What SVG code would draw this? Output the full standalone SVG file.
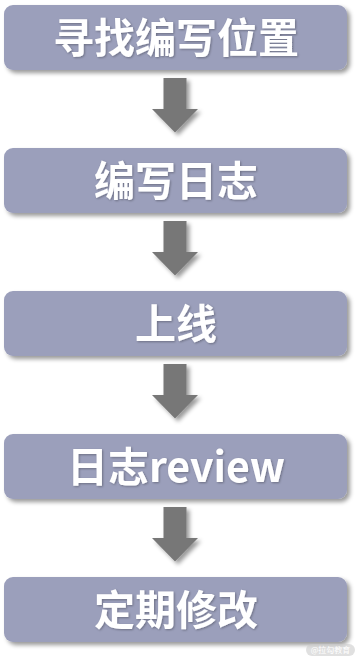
<svg xmlns="http://www.w3.org/2000/svg" width="360" height="660" viewBox="0 0 360 660">
  <defs>
    <filter id="sh" x="-10%" y="-20%" width="130%" height="150%">
      <feDropShadow dx="3" dy="3" stdDeviation="2" flood-color="#000" flood-opacity="0.4"/>
    </filter>
    <filter id="tsh" x="-10%" y="-20%" width="130%" height="150%">
      <feDropShadow dx="1" dy="1" stdDeviation="0.8" flood-color="#000" flood-opacity="0.3"/>
    </filter>
    <path id="arr" d="M163.5,0 H186.5 V31 H198 L175,54.5 L152,31 H163.5 Z"/>
  </defs>
  <style>
    .box { fill: #9b9fbb; filter: url(#sh); }
    .lbl { fill: #ffffff; font-family: "Noto Sans CJK SC", "Noto Sans", sans-serif; font-weight: bold; font-size: 41px; text-anchor: middle; filter: url(#tsh); }
    .arrow { fill: #777777; filter: url(#sh); }
    .wm { fill: #ffffff; font-family: "Noto Sans CJK SC", sans-serif; font-size: 8px; text-anchor: middle; }
  </style>
  <rect width="360" height="660" fill="#ffffff"/>
  <g id="connectors">
    <use href="#arr" class="arrow" transform="translate(0,78)"/>
    <use href="#arr" class="arrow" transform="translate(0,221)"/>
    <use href="#arr" class="arrow" transform="translate(0,364)"/>
    <use href="#arr" class="arrow" transform="translate(0,507)"/>
  </g>
  <g id="node1">
    <rect class="box" x="4" y="5" width="343" height="65" rx="9"/>
    <text class="lbl" x="176" y="52.5">寻找编写位置</text>
  </g>
  <g id="node2">
    <rect class="box" x="4" y="148" width="343" height="65" rx="9"/>
    <text class="lbl" x="176" y="195.5">编写日志</text>
  </g>
  <g id="node3">
    <rect class="box" x="4" y="291" width="343" height="65" rx="9"/>
    <text class="lbl" x="176" y="338.5">上线</text>
  </g>
  <g id="node4">
    <rect class="box" x="4" y="434" width="343" height="65" rx="9"/>
    <text class="lbl" x="176" y="481.5">日志review</text>
  </g>
  <g id="node5">
    <rect class="box" x="4" y="577" width="343" height="65" rx="9"/>
    <text class="lbl" x="176" y="624.5">定期修改</text>
  </g>
  <g id="watermark">
    <rect x="306" y="644" width="49" height="12" rx="6" fill="#cccccc" fill-opacity="0.6"/>
    <text class="wm" x="330.5" y="653">@拉勾教育</text>
  </g>
</svg>
